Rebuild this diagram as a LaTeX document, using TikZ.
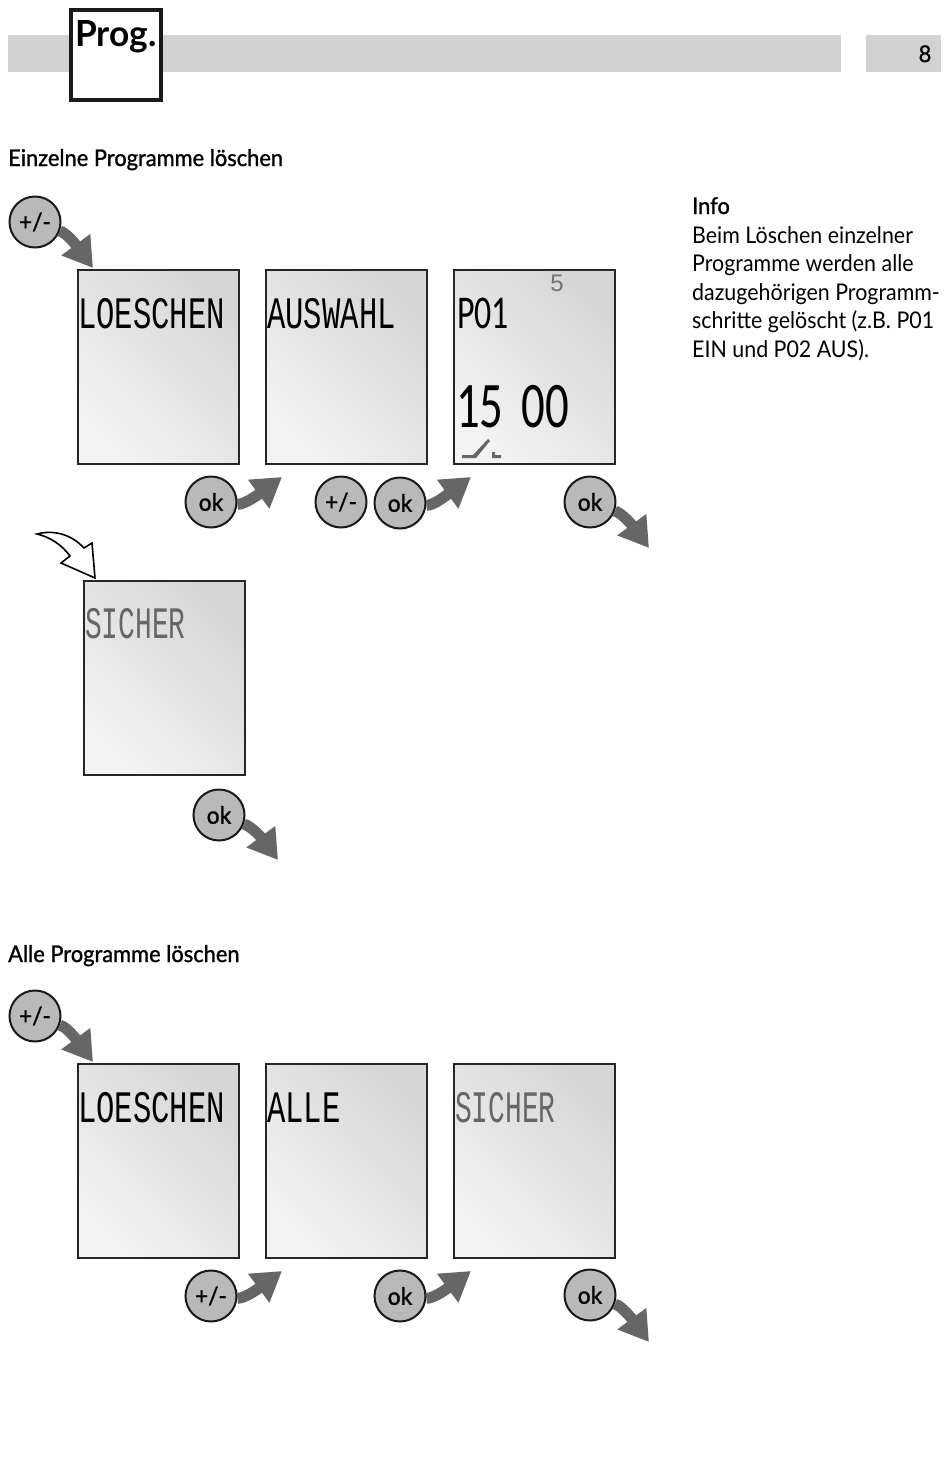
\documentclass[tikz,border=0pt]{standalone}
\usepackage{fontspec}
\setmainfont[FakeStretch=0.93]{Lato}
\newfontfamily\progfont[FakeStretch=0.98]{Lato Bold}
\newfontfamily\headfont[FakeBold=1.2,FakeStretch=0.95]{Lato}
\newfontfamily\lcdfont[FakeStretch=0.68]{Liberation Mono}
\newfontfamily\lcdsmall[FakeStretch=0.62]{Liberation Mono}
\newfontfamily\lcddigit[FakeStretch=0.72]{Carlito}
\newfontfamily\digitfont{Liberation Sans}
\usetikzlibrary{arrows.meta}
\definecolor{bar}{HTML}{D2D2D2}
\definecolor{knob}{HTML}{B9B9B9}
\definecolor{flowgray}{HTML}{666666}
\definecolor{lcdlight}{HTML}{F3F3F3}
\definecolor{lcddark}{HTML}{D6D6D6}
\definecolor{lcdfaint}{HTML}{666666}

\begin{document}
\begin{tikzpicture}[
    x=1pt, y=-1pt,
    lcd/.style={rectangle, draw=black!85, line width=1.6pt, anchor=north west,
        minimum width=161pt, minimum height=194pt,
        top color=lcddark, bottom color=lcdlight, shading angle=-45},
    knobby/.style={circle, draw=black!90, line width=2pt, fill=knob, inner sep=0pt,
        minimum size=51pt, font=\fontsize{24}{24}\headfont},
    flow/.style={-{Triangle[length=29pt,width=34pt]}, line width=11pt, flowgray},
    lcdtext/.style={anchor=base west, inner sep=0pt, font=\fontsize{45}{45}\lcdfont},
    lcdgray/.style={anchor=base west, inner sep=0pt, text=lcdfaint, font=\fontsize{45}{45}\lcdsmall},
    heading/.style={anchor=base west, inner sep=0pt, font=\fontsize{23}{23}\headfont},
]
\useasboundingbox[fill=white] (0,0) rectangle (950,1472);

% Header
\fill[bar] (8,35) rectangle (841,72);
\fill[bar] (866,35) rectangle (941,72);
\node[rectangle, draw=black!90, line width=4pt, fill=white, minimum size=90pt] (progbox) at (116,55) {};
\node[anchor=base, inner sep=0pt, font=\fontsize{36}{36}\progfont] (progtext) at (116,47) {Prog.};
\node[anchor=base, inner sep=0pt, font=\fontsize{23}{23}\headfont] (pagenum) at (925,62) {8};

% Info column
\node[anchor=base west, inner sep=0pt, font=\fontsize{23}{23}\headfont] (infohead) at (692,214) {Info};
\node[anchor=north west, inner sep=0pt, align=left, font=\fontsize{23}{28.6}\selectfont] (infotext) at (692,226)
    {Beim Löschen einzelner\\Programme werden alle\\dazugehörigen Programm-\\schritte gelöscht (z.B. P01\\EIN und P02 AUS).};

% Einzelne Programme
\node[heading] (einzelhead) at (8,166) {Einzelne Programme löschen};
\node[lcd] (lcdA) at (77,269) {};
\node[lcd] (lcdB) at (265,269) {};
\node[lcd] (lcdC) at (453,269) {};
\node[lcd] (lcdD) at (83,580) {};
\node[lcdtext] (txtA) at (78,328) {LOESCHEN};
\node[lcdtext] (txtB) at (267,328) {AUSWAHL};
\node[anchor=base west, inner sep=0pt, font=\fontsize{47}{47}\lcddigit] (txtC) at (457,328) {P01};
\node[anchor=base, inner sep=0pt, text=black!55, font=\fontsize{24}{24}\digitfont] (txtfive) at (557,291) {5};
\node[anchor=base west, inner sep=0pt, font=\fontsize{65}{65}\lcddigit] (txttime) at (456,427) {15\hspace{18pt}00};
\node[lcdgray] (txtD) at (85,638) {SICHER};

% Switch symbol
\fill[black!60] (462,455) -- (473,455) -- (488,439) -- (490,441) -- (476,458) -- (462,458) -- cycle;
\fill[black!60] (492,452) -- (495,452) -- (495,455) -- (501,455) -- (501,458) -- (492,458) -- cycle;

% Buttons
\node[knobby] (plusA) at (35,222) {+/-};
\node[knobby] (okA) at (211,502) {ok};
\node[knobby] (plusB) at (341,502) {+/-};
\node[knobby] (okB) at (400,503) {ok};
\node[knobby] (okC) at (590,502) {ok};
\node[knobby] (okD) at (219,815) {ok};

% Arrow ends
\coordinate (tipA) at (93,268);
\coordinate (tipB) at (282,477);
\coordinate (tipC) at (471,477);
\coordinate (tipD) at (649,548);
\coordinate (tipE) at (278,860);

% Arrows
\draw[flow] (plusA.-20) .. controls +(7,2) and +(-17,-23) .. (tipA);
\draw[flow] (okA.-5) .. controls +(8,0) and +(-23,17) .. (tipB);
\draw[flow] (okB.-5) .. controls +(8,0) and +(-23,17) .. (tipC);
\draw[flow] (okC.-20) .. controls +(7,2) and +(-17,-23) .. (tipD);
\draw[flow] (okD.-20) .. controls +(7,2) and +(-17,-23) .. (tipE);

% Open arrow
\draw[fill=white, line width=1.6pt, line join=miter] (37,534)
    .. controls (52,530) and (70,533) .. (84,548) -- (92,543) -- (95,578) -- (61,563) -- (70,556)
    .. controls (62,545) and (50,537) .. (37,534) -- cycle;

% Alle Programme
\node[heading] (allehead) at (8,962) {Alle Programme löschen};
\node[lcd] (lcdE) at (77,1063) {};
\node[lcd] (lcdF) at (265,1063) {};
\node[lcd] (lcdG) at (453,1063) {};
\node[lcdtext] (txtE) at (78,1122) {LOESCHEN};
\node[lcdtext] (txtF) at (267,1122) {ALLE};
\node[lcdgray] (txtG) at (455,1122) {SICHER};

\node[knobby] (plusC) at (35,1016) {+/-};
\node[knobby] (plusD) at (211,1296) {+/-};
\node[knobby] (okE) at (400,1296) {ok};
\node[knobby] (okF) at (590,1295) {ok};

\coordinate (tipF) at (93,1062);
\coordinate (tipG) at (282,1271);
\coordinate (tipH) at (471,1271);
\coordinate (tipI) at (649,1342);

\draw[flow] (plusC.-20) .. controls +(7,2) and +(-17,-23) .. (tipF);
\draw[flow] (plusD.-5) .. controls +(8,0) and +(-23,17) .. (tipG);
\draw[flow] (okE.-5) .. controls +(8,0) and +(-23,17) .. (tipH);
\draw[flow] (okF.-20) .. controls +(7,2) and +(-17,-23) .. (tipI);

\end{tikzpicture}
\end{document}
